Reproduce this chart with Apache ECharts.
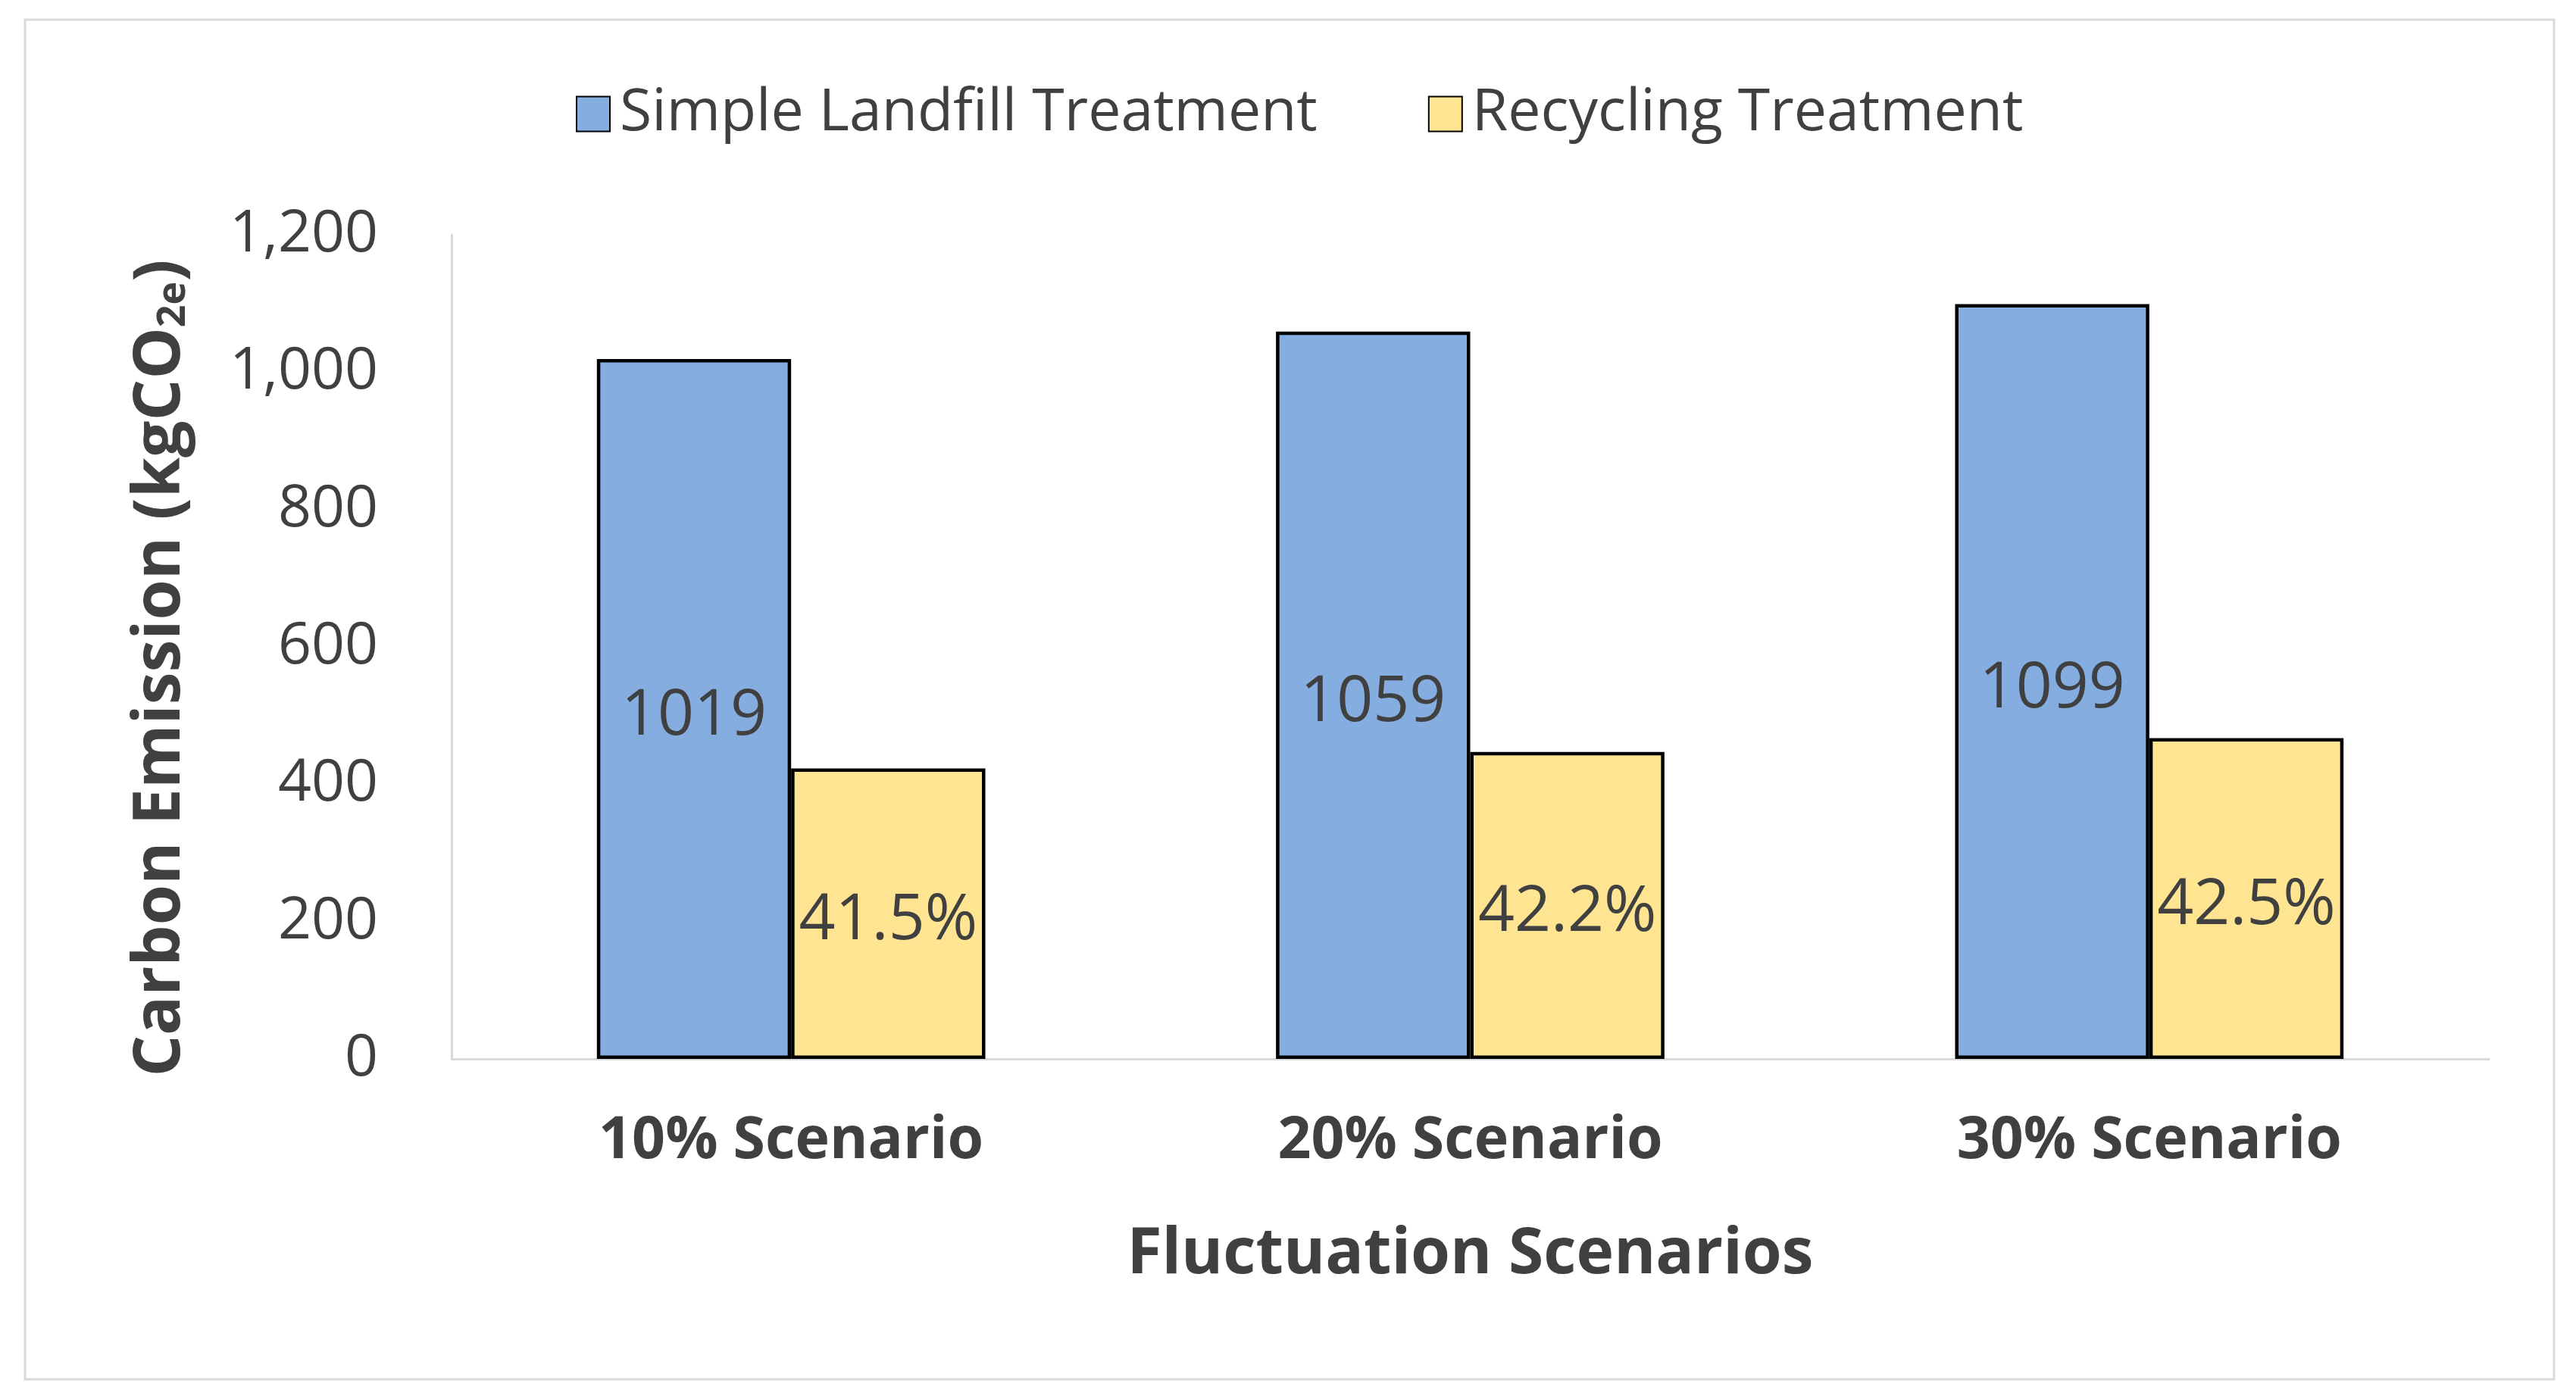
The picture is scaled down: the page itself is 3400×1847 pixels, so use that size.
<!DOCTYPE html>
<html>
<head>
<meta charset="utf-8">
<script src="https://cdn.jsdelivr.net/npm/echarts@6/dist/echarts.min.js"></script>
<style>
html,body{margin:0;padding:0;background:#fff;}
#c{width:3400px;height:1847px;}
</style>
</head>
<body>
<div id="c"></div>
<script>
const categories = ['10% Scenario', '20% Scenario', '30% Scenario'];
const landfillValues = [1019, 1059, 1099];
const recyclingValues = [423, 447, 467];
const recyclingLabels = ['41.5%', '42.2%', '42.5%'];
const seriesNames = ['Simple Landfill Treatment', 'Recycling Treatment'];
const yTicks = { min: 0, max: 1200, interval: 200 };

const FONT = '"Open Sans", "Noto Sans", sans-serif';
const TXT = '#404040';

const chart = echarts.init(document.getElementById('c'), null, { renderer: 'canvas' });
chart.setOption({
  backgroundColor: '#fff',
  textStyle: { fontFamily: FONT, color: TXT },
  graphic: [{
    type: 'rect', silent: true, z: -1,
    shape: { x: 33, y: 26, width: 3338, height: 1795 },
    style: { fill: 'none', stroke: '#D9D9D9', lineWidth: 3 }
  }],
  legend: {
    left: 755, top: 107,
    itemWidth: 44, itemHeight: 46, itemGap: 146,
    icon: 'rect',
    textStyle: { fontFamily: FONT, fontSize: 77, color: TXT, padding: [0, 0, 0, 8] },
    data: seriesNames
  },
  grid: { left: 596, right: 115, top: 310, bottom: 449, containLabel: false },
  xAxis: {
    type: 'category',
    data: categories,
    axisLine: { show: true, lineStyle: { color: '#D9D9D9', width: 3 } },
    axisTick: { show: false },
    axisLabel: { fontFamily: FONT, fontSize: 77, fontWeight: 'bold', color: TXT, margin: 71 },
    name: 'Fluctuation Scenarios',
    nameLocation: 'middle',
    nameGap: 217,
    nameTextStyle: { fontFamily: FONT, fontSize: 84, fontWeight: 'bold', color: TXT }
  },
  yAxis: {
    type: 'value',
    min: yTicks.min, max: yTicks.max, interval: yTicks.interval,
    axisLine: { show: true, lineStyle: { color: '#D9D9D9', width: 3 } },
    axisTick: { show: false },
    splitLine: { show: false },
    axisLabel: {
      fontFamily: FONT, fontSize: 77, color: TXT, margin: 97,
      formatter: v => v.toLocaleString('en-US')
    },
    name: 'Carbon Emission (kgCO{sub|2e})',
    nameLocation: 'middle',
    nameRotate: 90,
    nameGap: 341,
    nameTextStyle: {
      fontFamily: FONT, fontSize: 86, fontWeight: 'bold', color: TXT,
      padding: [0, 56, 0, 0],
      rich: { sub: { fontFamily: FONT, fontSize: 52, fontWeight: 'bold', color: TXT, verticalAlign: 'bottom', padding: [30, 0, 0, 0] } }
    }
  },
  series: [
    {
      name: seriesNames[0], type: 'bar', data: landfillValues,
      barWidth: '28.6%', barGap: '0%',
      itemStyle: { color: '#86ADE0', borderColor: '#000', borderWidth: 4.5 },
      label: { show: true, position: 'inside', offset: [0, 10], fontFamily: FONT, fontSize: 84, color: TXT }
    },
    {
      name: seriesNames[1], type: 'bar', data: recyclingValues,
      barWidth: '28.6%', barGap: '0%',
      itemStyle: { color: '#FFE592', borderColor: '#000', borderWidth: 4.5 },
      label: { show: true, position: 'inside', offset: [0, 10], fontFamily: FONT, fontSize: 84, color: TXT,
        formatter: p => recyclingLabels[p.dataIndex] }
    }
  ]
});
</script>
</body>
</html>
